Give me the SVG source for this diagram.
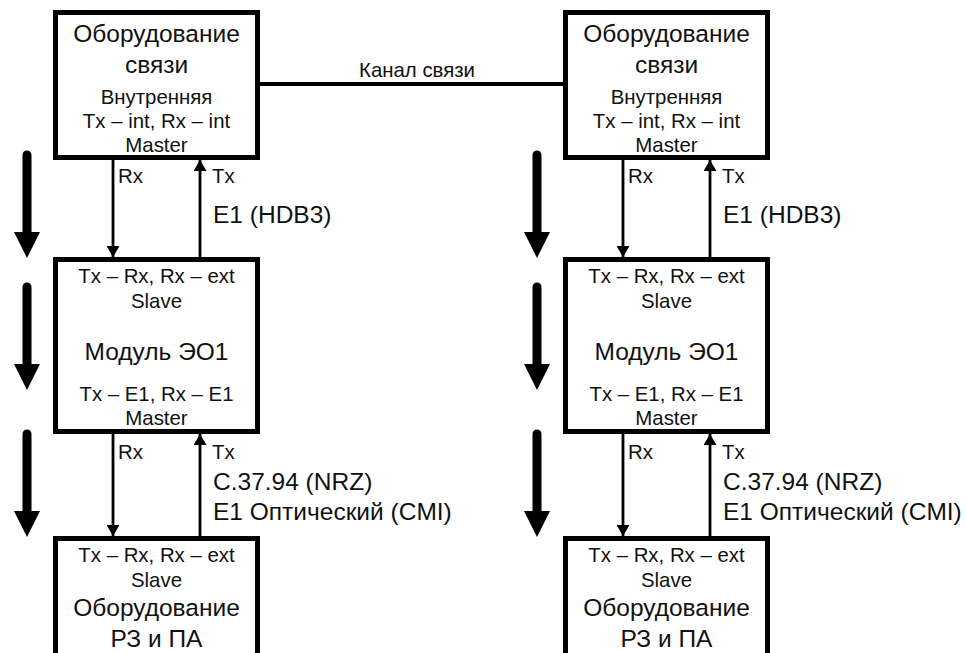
<svg xmlns="http://www.w3.org/2000/svg" width="966" height="653" viewBox="0 0 966 653">
<style>
.box{fill:#fff;stroke:#000;stroke-width:5}
.t{font-family:"Liberation Sans",Arial,sans-serif;fill:#111}
.b{font-size:24.5px}
.s{font-size:20.4px}
.m{text-anchor:middle}
.con{stroke:#000;stroke-width:2.8;fill:none}
.thick{stroke:#000;stroke-width:9;stroke-linecap:round;fill:none}
</style>
<defs>
<marker id="ah" viewBox="0 0 11 13" refX="11" refY="6.5" markerWidth="11" markerHeight="13" markerUnits="userSpaceOnUse" orient="auto">
<path d="M0,0 L11,6.5 L0,13 Z" fill="#000"/>
</marker>
<g id="bigarrow">
<line class="thick" x1="0" y1="0" x2="0" y2="80"/>
<path d="M-13,77 L13,77 L0,103 Z" fill="#000"/>
</g>
</defs>
<rect width="966" height="653" fill="#fff"/>

<g id="connectors">
<line x1="260" y1="84" x2="563" y2="84" stroke="#000" stroke-width="4"/>
<text class="t s m" x="417" y="77">Канал связи</text>
<line class="con" x1="113" y1="160" x2="113" y2="257" marker-end="url(#ah)"/>
<line class="con" x1="200" y1="257" x2="200" y2="160" marker-end="url(#ah)"/>
<line class="con" x1="113" y1="434" x2="113" y2="536" marker-end="url(#ah)"/>
<line class="con" x1="200" y1="536" x2="200" y2="434" marker-end="url(#ah)"/>
<line class="con" x1="623" y1="160" x2="623" y2="257" marker-end="url(#ah)"/>
<line class="con" x1="710" y1="257" x2="710" y2="160" marker-end="url(#ah)"/>
<line class="con" x1="623" y1="434" x2="623" y2="536" marker-end="url(#ah)"/>
<line class="con" x1="710" y1="536" x2="710" y2="434" marker-end="url(#ah)"/>
<text class="t s" x="118" y="183">Rx</text>
<text class="t s" x="212" y="183">Tx</text>
<text class="t b" x="213" y="223">E1 (HDB3)</text>
<text class="t s" x="118" y="459">Rx</text>
<text class="t s" x="212" y="459">Tx</text>
<text class="t b" x="213" y="490">C.37.94 (NRZ)</text>
<text class="t b" x="213" y="520">E1 Оптический (CMI)</text>
<text class="t s" x="628" y="183">Rx</text>
<text class="t s" x="722" y="183">Tx</text>
<text class="t b" x="723" y="223">E1 (HDB3)</text>
<text class="t s" x="628" y="459">Rx</text>
<text class="t s" x="722" y="459">Tx</text>
<text class="t b" x="723" y="490">C.37.94 (NRZ)</text>
<text class="t b" x="723" y="520">E1 Оптический (CMI)</text>
<use href="#bigarrow" x="27" y="155"/>
<use href="#bigarrow" x="27" y="287"/>
<use href="#bigarrow" x="27" y="434"/>
<use href="#bigarrow" x="537" y="155"/>
<use href="#bigarrow" x="537" y="287"/>
<use href="#bigarrow" x="537" y="434"/>
</g>

<g id="comm-left">
<rect class="box" x="55.5" y="12.5" width="202" height="145"/>
<text class="t b m" x="156.5" y="42">Оборудование</text>
<text class="t b m" x="156.5" y="73">связи</text>
<text class="t s m" x="156.5" y="104">Внутренняя</text>
<text class="t s m" x="156.5" y="128">Tx – int, Rx – int</text>
<text class="t s m" x="156.5" y="152">Master</text>
</g>
<g id="comm-right">
<rect class="box" x="565.5" y="12.5" width="202" height="145"/>
<text class="t b m" x="666.5" y="42">Оборудование</text>
<text class="t b m" x="666.5" y="73">связи</text>
<text class="t s m" x="666.5" y="104">Внутренняя</text>
<text class="t s m" x="666.5" y="128">Tx – int, Rx – int</text>
<text class="t s m" x="666.5" y="152">Master</text>
</g>

<g id="eo1-left">
<rect class="box" x="55.5" y="259.5" width="202" height="172"/>
<text class="t s m" x="156.5" y="283">Tx – Rx, Rx – ext</text>
<text class="t s m" x="156.5" y="308">Slave</text>
<text class="t b m" x="156.5" y="360">Модуль ЭО1</text>
<text class="t s m" x="156.5" y="401">Tx – E1, Rx – E1</text>
<text class="t s m" x="156.5" y="425">Master</text>
</g>
<g id="eo1-right">
<rect class="box" x="565.5" y="259.5" width="202" height="172"/>
<text class="t s m" x="666.5" y="283">Tx – Rx, Rx – ext</text>
<text class="t s m" x="666.5" y="308">Slave</text>
<text class="t b m" x="666.5" y="360">Модуль ЭО1</text>
<text class="t s m" x="666.5" y="401">Tx – E1, Rx – E1</text>
<text class="t s m" x="666.5" y="425">Master</text>
</g>

<g id="rza-left">
<rect class="box" x="55.5" y="538.5" width="202" height="140"/>
<text class="t s m" x="156.5" y="562">Tx – Rx, Rx – ext</text>
<text class="t s m" x="156.5" y="587">Slave</text>
<text class="t b m" x="156.5" y="616">Оборудование</text>
<text class="t b m" x="156.5" y="647">РЗ и ПА</text>
</g>
<g id="rza-right">
<rect class="box" x="565.5" y="538.5" width="202" height="140"/>
<text class="t s m" x="666.5" y="562">Tx – Rx, Rx – ext</text>
<text class="t s m" x="666.5" y="587">Slave</text>
<text class="t b m" x="666.5" y="616">Оборудование</text>
<text class="t b m" x="666.5" y="647">РЗ и ПА</text>
</g>
</svg>
